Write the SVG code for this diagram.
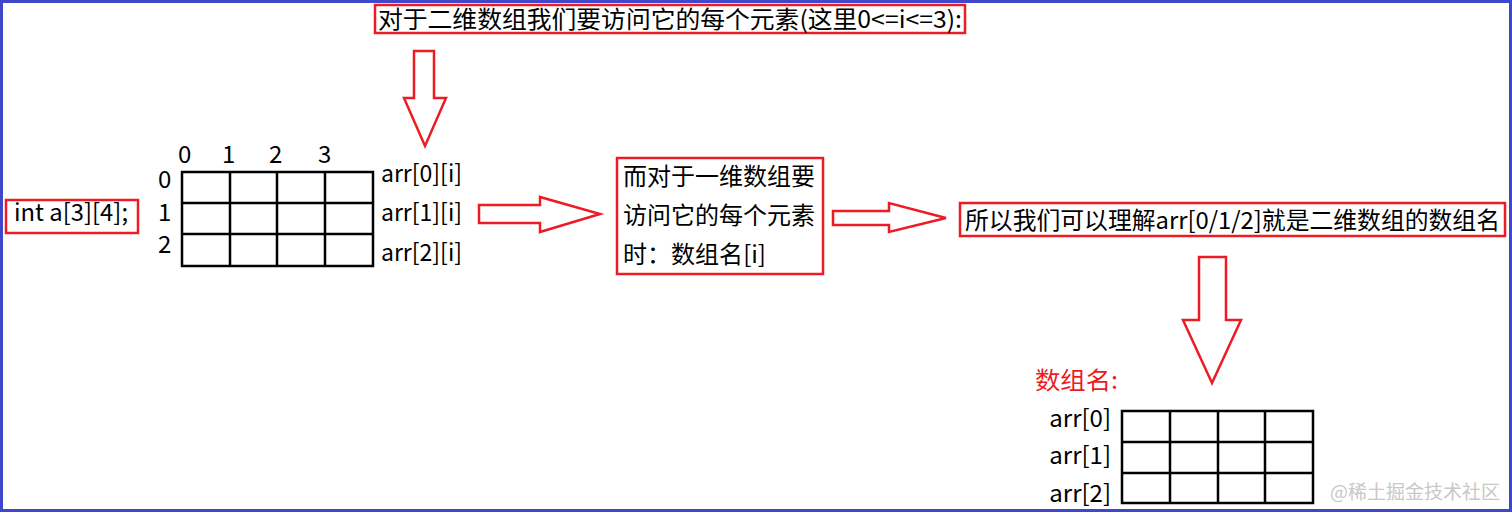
<svg xmlns="http://www.w3.org/2000/svg" width="1512" height="513" viewBox="0 0 1512 513">
<style>
text{font-family:"Microsoft YaHei","Noto Sans CJK SC","Noto Sans",sans-serif;font-size:24px;fill:#000}
.box{fill:none;stroke:#ed1c24;stroke-width:2.5}
.arrow{fill:#fff;stroke:#ed1c24;stroke-width:2.5;stroke-linejoin:miter}
.grid{fill:none;stroke:#000;stroke-width:2.5}
.red{fill:#ed1c24}
.wm{fill:#c8c8c8;font-size:19px}
</style>
<rect x="1.5" y="1.5" width="1509" height="509" fill="#fff" stroke="#3f48cc" stroke-width="3"/>

<g id="top-note">
<rect class="box" x="375" y="5" width="590" height="28"/>
<text x="378" y="28" textLength="584" lengthAdjust="spacingAndGlyphs">对于二维数组我们要访问它的每个元素(这里0&lt;=i&lt;=3):</text>
</g>

<g id="decl">
<rect class="box" x="6" y="200" width="132" height="33"/>
<text x="14" y="221" textLength="114" lengthAdjust="spacingAndGlyphs">int a[3][4];</text>
</g>

<g id="grid1">
<rect class="grid" x="182" y="172" width="191" height="94"/>
<path class="grid" d="M230 172V266M277 172V266M325 172V266M182 203H373M182 234H373"/>
<text x="178" y="163">0</text>
<text x="222" y="163">1</text>
<text x="269" y="163">2</text>
<text x="318" y="163">3</text>
<text x="158" y="188">0</text>
<text x="158" y="221">1</text>
<text x="158" y="253">2</text>
<text x="381" y="182" textLength="81" lengthAdjust="spacingAndGlyphs">arr[0][i]</text>
<text x="381" y="221" textLength="81" lengthAdjust="spacingAndGlyphs">arr[1][i]</text>
<text x="381" y="261" textLength="81" lengthAdjust="spacingAndGlyphs">arr[2][i]</text>
</g>

<g id="mid-note">
<rect class="box" x="617" y="158" width="206" height="116"/>
<text x="623" y="185" textLength="192" lengthAdjust="spacingAndGlyphs">而对于一维数组要</text>
<text x="623" y="224" textLength="192" lengthAdjust="spacingAndGlyphs">访问它的每个元素</text>
<text x="623" y="263" textLength="143" lengthAdjust="spacingAndGlyphs">时：数组名[i]</text>
</g>

<g id="right-note">
<rect class="box" x="960" y="203" width="545" height="33"/>
<text x="965" y="229" textLength="535" lengthAdjust="spacingAndGlyphs">所以我们可以理解arr[0/1/2]就是二维数组的数组名</text>
</g>

<g id="grid2">
<text class="red" x="1035" y="389" textLength="83" lengthAdjust="spacingAndGlyphs">数组名:</text>
<rect class="grid" x="1122" y="411" width="191" height="92"/>
<path class="grid" d="M1170 411V503M1218 411V503M1265 411V503M1122 442H1313M1122 473H1313"/>
<text x="1111" y="427" text-anchor="end">arr[0]</text>
<text x="1111" y="464" text-anchor="end">arr[1]</text>
<text x="1111" y="502" text-anchor="end">arr[2]</text>
</g>

<g id="connectors">
<path class="arrow" d="M414 51H434V98H446L425 146L404 98H414Z"/>
<path class="arrow" d="M479 205H540V197L600 214L540 232V223H479Z"/>
<path class="arrow" d="M833 211H889V203L946 218L889 232V225H833Z"/>
<path class="arrow" d="M1199 257H1226V320H1241L1212 383L1183 320H1199Z"/>
</g>

<text class="wm" x="1330" y="499">@稀土掘金技术社区</text>
</svg>
